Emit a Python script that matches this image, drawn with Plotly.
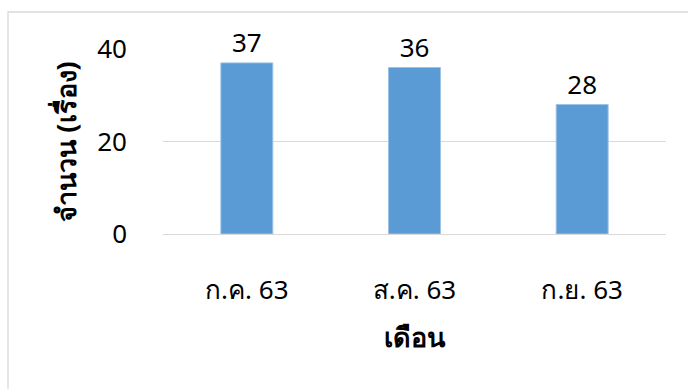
import plotly.graph_objects as go

categories = ["ก.ค. 63", "ส.ค. 63", "ก.ย. 63"]
values = [37, 36, 28]
y_ticks = [0, 20, 40]

W, H = 688, 389
L, R, T, B = 163, 22, 49, 155
pw, ph = W - L - R, H - T - B

font_family = "'Noto Sans', 'DejaVu Sans', sans-serif"

fig = go.Figure(go.Bar(
    x=categories, y=values,
    marker=dict(color="#5B9BD5", line=dict(color="#9DC3E6", width=1)),
    width=0.31,
    text=[str(v) for v in values],
    textposition="outside",
    textfont=dict(size=26, color="#000000", family=font_family),
    cliponaxis=False,
))

def px(x):
    return (x - L) / pw

def py(y):
    return (H - B - y) / ph

fig.update_layout(
    width=W, height=H,
    margin=dict(l=L, r=R, t=T, b=B),
    paper_bgcolor="white", plot_bgcolor="white",
    showlegend=False,
    font=dict(family=font_family, color="#000000"),
    xaxis=dict(
        showgrid=False, showline=False, ticks="",
        tickfont=dict(size=26, color="#000000"),
        ticklabelstandoff=38,
        title=dict(text="<b>เดือน</b>", font=dict(size=27), standoff=22),
    ),
    yaxis=dict(
        range=[0, 40], tickvals=y_ticks,
        showgrid=True, gridcolor="#D9D9D9", gridwidth=1.3,
        zeroline=True, zerolinecolor="#D9D9D9", zerolinewidth=1.3,
        showline=False, ticks="",
        tickfont=dict(size=26, color="#000000"),
        ticklabelstandoff=35,
        title=dict(text="<b>จำนวน (เรื่อง)</b>", font=dict(size=27), standoff=12),
    ),
    shapes=[dict(
        type="rect", xref="paper", yref="paper",
        x0=px(8), x1=px(700), y0=py(12), y1=py(400),
        line=dict(color="#D9D9D9", width=1.3), fillcolor="rgba(0,0,0,0)",
        layer="below",
    )],
)

fig.write_html("out.html")
